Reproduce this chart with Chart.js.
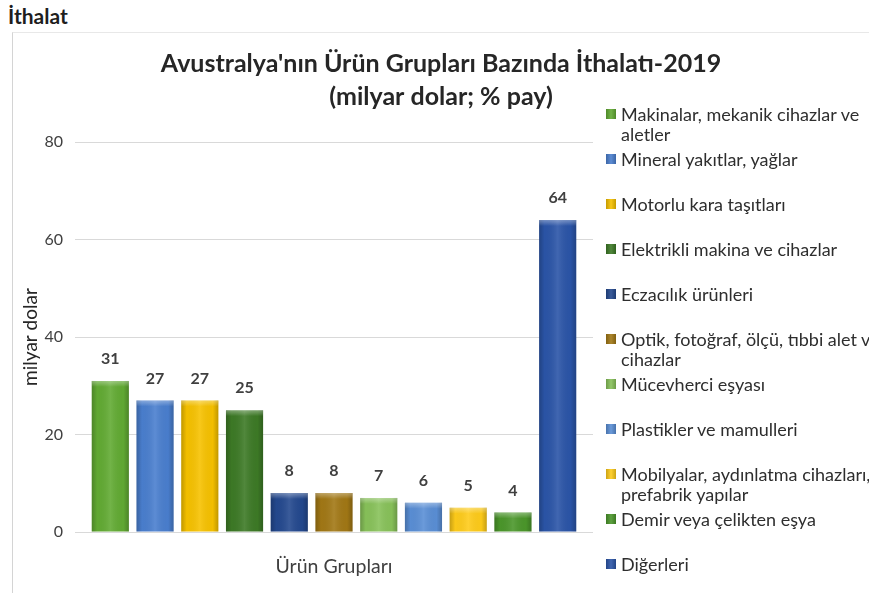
<!DOCTYPE html>
<html>
<head>
<meta charset="utf-8">
<script src="https://cdn.jsdelivr.net/npm/chart.js@4"></script>
<style>
html,body{margin:0;padding:0;width:869px;height:593px;overflow:hidden;background:#fff;font-family:Lato,'Open Sans',sans-serif;}
#top{position:absolute;left:8px;top:3px;font-weight:bold;font-size:21px;color:#1e1e1e;}
#frame{position:absolute;left:12px;top:32px;width:900px;height:600px;border-left:1px solid #d4d4d4;border-top:1px solid #e8e8e8;}
#wrap{position:absolute;left:13px;top:33px;width:856px;height:560px;}
#legend{position:absolute;left:606px;top:104px;width:292px;}
.item{height:45px;display:flex;align-items:flex-start;font-size:18px;line-height:20px;color:#2e2e2e;}
.box{width:10px;height:10px;margin:5px 5px 0 0;flex:none;}
.txt{width:272px;}
</style>
</head>
<body>
<div id="top">İthalat</div>
<div id="frame"></div>
<div id="wrap"><canvas id="c"></canvas></div>
<div id="legend"></div>
<script>
const titleLines = ["Avustralya'nın Ürün Grupları Bazında İthalatı-2019", "(milyar dolar; % pay)"];
const categories = [
  "Makinalar, mekanik cihazlar ve aletler",
  "Mineral yakıtlar, yağlar",
  "Motorlu kara taşıtları",
  "Elektrikli makina ve cihazlar",
  "Eczacılık ürünleri",
  "Optik, fotoğraf, ölçü, tıbbi alet ve cihazlar",
  "Mücevherci eşyası",
  "Plastikler ve mamulleri",
  "Mobilyalar, aydınlatma cihazları, prefabrik yapılar",
  "Demir veya çelikten eşya",
  "Diğerleri"
];
const values = [31, 27, 27, 25, 8, 8, 7, 6, 5, 4, 64];
const colors = ['#62ab33','#4a7fcf','#f7c200','#3d7a26','#24498f','#a27815','#88c25a','#5a8fd6','#ffcc1a','#4b972b','#2b55a8'];
const xCategory = ['Ürün Grupları'];
const yTicks = [0, 20, 40, 60, 80];
const yTitle = 'milyar dolar';

const FONT = "Lato, 'Open Sans', sans-serif";

const datasets = categories.map((name, i) => ({
  label: name,
  data: [values[i]],
  backgroundColor: colors[i],
  borderWidth: 0,
  categoryPercentage: 0.95,
  barPercentage: 0.83
}));

const barShade = {
  id: 'barShade',
  afterDatasetDraw(chart, args) {
    const ctx = chart.ctx;
    const meta = args.meta;
    meta.data.forEach(el => {
      const l = el.x - el.width / 2, r = el.x + el.width / 2;
      const t = el.y, b = el.base;
      const g = ctx.createLinearGradient(l, 0, r, 0);
      g.addColorStop(0, 'rgba(0,0,0,0.22)');
      g.addColorStop(0.15, 'rgba(0,0,0,0.02)');
      g.addColorStop(0.5, 'rgba(255,255,255,0.10)');
      g.addColorStop(0.85, 'rgba(0,0,0,0.02)');
      g.addColorStop(1, 'rgba(0,0,0,0.22)');
      ctx.save();
      ctx.fillStyle = g;
      ctx.fillRect(l, t, r - l, b - t);
      const g2 = ctx.createLinearGradient(0, t, 0, t + 6);
      g2.addColorStop(0, 'rgba(255,255,255,0.35)');
      g2.addColorStop(1, 'rgba(255,255,255,0)');
      ctx.fillStyle = g2;
      ctx.fillRect(l, t, r - l, Math.min(6, b - t));
      ctx.restore();
    });
  }
};

const valueLabels = {
  id: 'valueLabels',
  afterDatasetsDraw(chart) {
    const ctx = chart.ctx;
    ctx.save();
    ctx.font = 'bold 16px ' + FONT;
    ctx.fillStyle = '#404040';
    ctx.textAlign = 'center';
    ctx.textBaseline = 'bottom';
    chart.data.datasets.forEach((ds, i) => {
      const meta = chart.getDatasetMeta(i);
      meta.data.forEach((el, j) => {
        const v = ds.data[j];
        if (v == null) return;
        ctx.fillText(String(v), el.x, el.y - 14);
      });
    });
    ctx.restore();
  }
};

const chart = new Chart(document.getElementById('c'), {
  type: 'bar',
  data: { labels: xCategory, datasets },
  plugins: [barShade, valueLabels],
  options: {
    responsive: true,
    maintainAspectRatio: false,
    animation: false,
    layout: { padding: 0 },
    plugins: {
      legend: { display: false },
      tooltip: { enabled: false },
      title: {
        display: true,
        text: titleLines,
        color: '#262626',
        font: { family: FONT, size: 25, weight: 'bold', lineHeight: 1.32 },
        padding: { top: 14, bottom: 29 }
      }
    },
    scales: {
      x: {
        grid: { display: false, drawTicks: false },
        border: { display: false },
        ticks: { color: '#404040', font: { family: FONT, size: 19.5 }, padding: 23 },
        afterFit(s) { s.height = 61; }
      },
      y: {
        min: yTicks[0],
        max: yTicks[yTicks.length - 1],
        afterBuildTicks(s) { s.ticks = yTicks.map(v => ({ value: v })); },
        grid: { color: '#d9d9d9', drawTicks: false },
        border: { display: false },
        ticks: { color: '#404040', font: { family: FONT, size: 16 }, padding: 12 },
        title: { display: true, text: yTitle, color: '#262626', font: { family: FONT, size: 19 }, padding: { top: 6, bottom: 0 } },
        afterFit(s) { s.width = 62; }
      },
      legendSpace: {
        type: 'linear',
        position: 'right',
        display: true,
        grid: { display: false, drawTicks: false },
        border: { display: false },
        ticks: { display: false },
        afterFit(s) { s.width = 276; }
      }
    }
  }
});

const legend = document.getElementById('legend');
chart.data.datasets.forEach(ds => {
  const item = document.createElement('div');
  item.className = 'item';
  const box = document.createElement('span');
  box.className = 'box';
  box.style.background = 'linear-gradient(90deg, rgba(0,0,0,0.2), rgba(255,255,255,0.1) 50%, rgba(0,0,0,0.2)), ' + ds.backgroundColor;
  const txt = document.createElement('span');
  txt.className = 'txt';
  txt.textContent = ds.label;
  item.appendChild(box);
  item.appendChild(txt);
  legend.appendChild(item);
});
</script>
</body>
</html>
